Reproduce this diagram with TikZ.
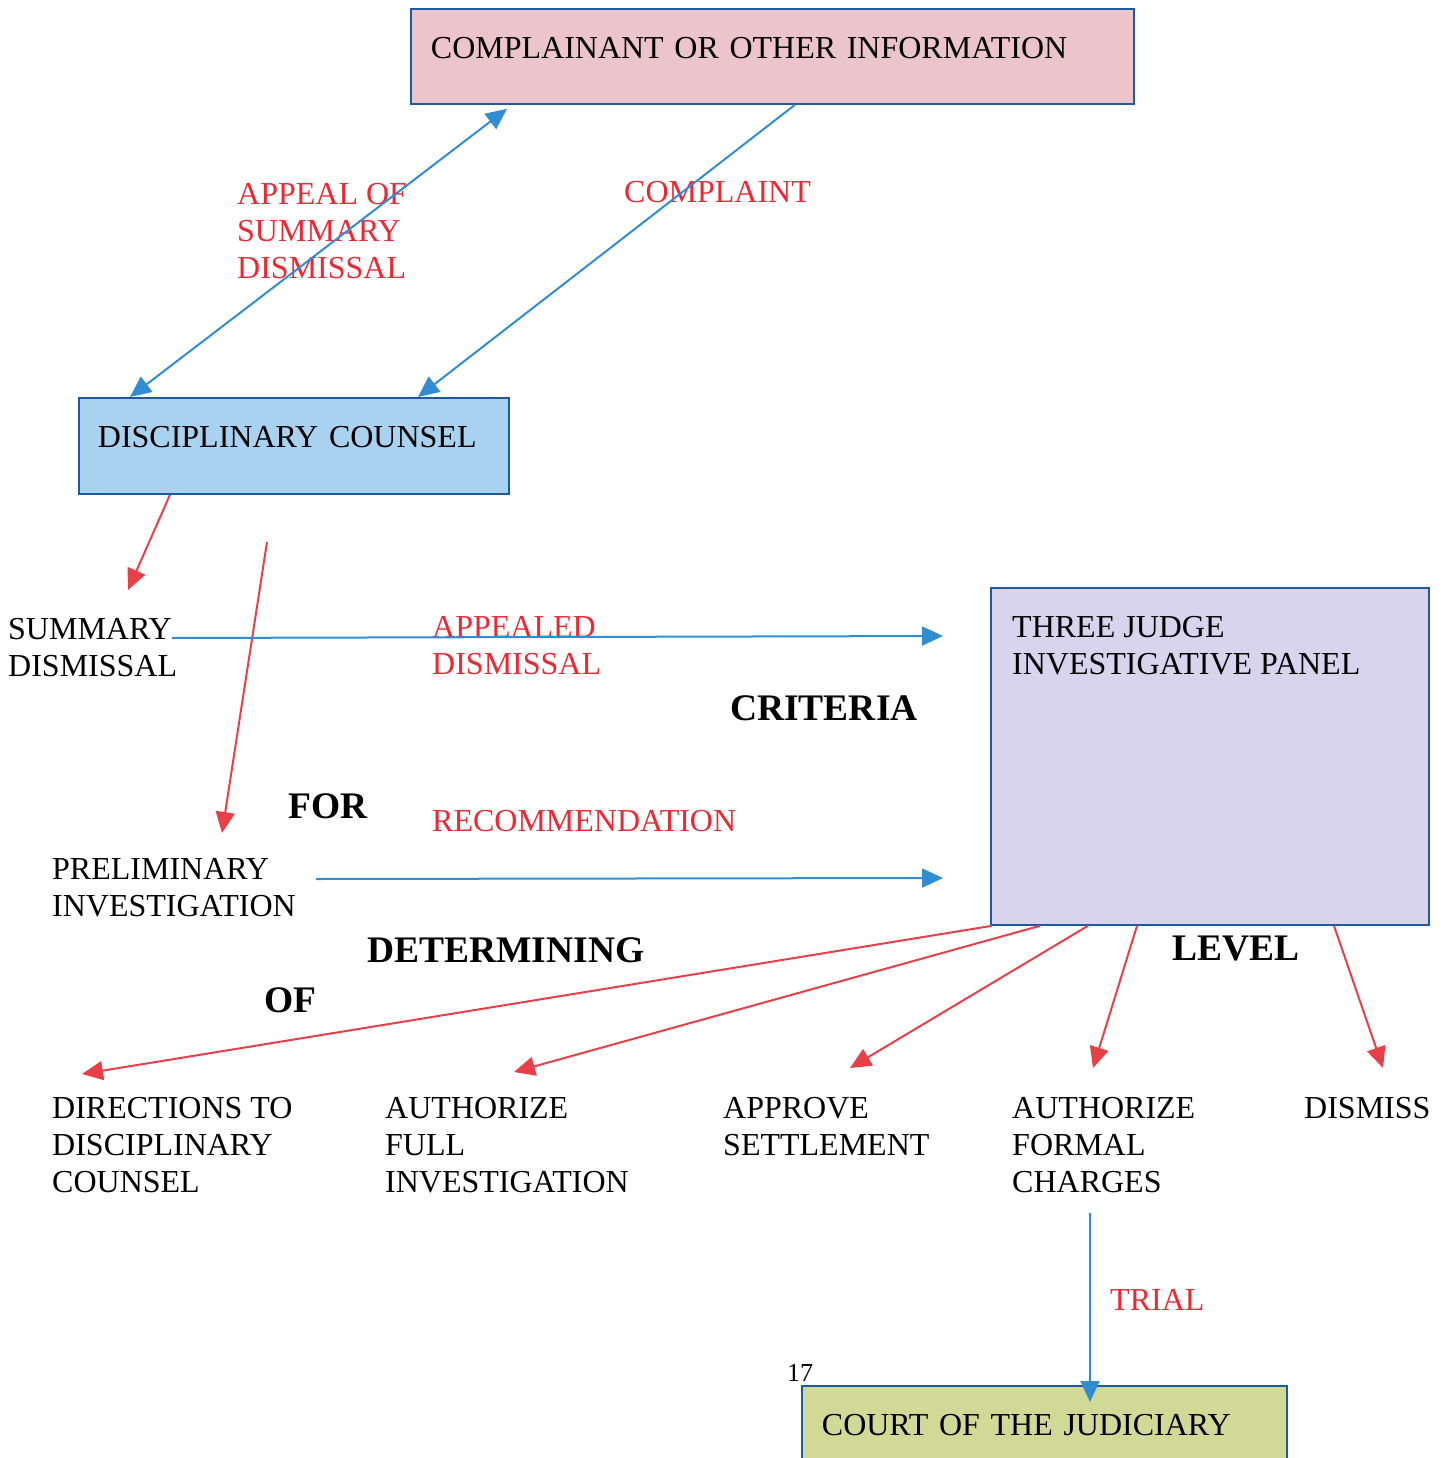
\documentclass[tikz,border=0pt]{standalone}
\usepackage{fontspec}
\setmainfont{Liberation Serif}
\usetikzlibrary{arrows.meta,positioning}
\definecolor{boxline}{HTML}{1E5AA0}
\definecolor{srcfill}{HTML}{EBC4CC}
\definecolor{dcfill}{HTML}{A8D2F0}
\definecolor{panelfill}{HTML}{D8D4EE}
\definecolor{courtfill}{HTML}{D0DA96}
\definecolor{arrblue}{HTML}{328CD2}
\definecolor{arrred}{HTML}{E84048}
\definecolor{txtred}{HTML}{EE2832}

\begin{document}
\begin{tikzpicture}[x=1pt,y=-1pt,>={Triangle[length=21pt,width=19pt]},
   every node/.style={inner sep=0pt,font=\fontsize{32}{37}\selectfont},
   box/.style={draw=boxline,line width=1.8pt,anchor=north west,align=left,
     inner xsep=20pt,text height=22pt,text depth=18pt},
   txt/.style={anchor=north west,align=left},
   redtxt/.style={txt,text=txtred},
   big/.style={anchor=north west,font=\fontsize{37.5}{40}\selectfont\bfseries},
   bluearr/.style={draw=arrblue,line width=2pt},
   redarr/.style={draw=arrred,line width=2pt}]
   \useasboundingbox (0,0) rectangle (1440,1458);

   % boxes
   \node[box,fill=srcfill,text width=683pt,minimum height=95pt] (src) at (410,8) {COMPLAINANT OR OTHER INFORMATION};
   \node[box,fill=dcfill,inner xsep=19pt,text width=392pt,minimum height=96pt] (dc) at (78,397) {DISCIPLINARY COUNSEL};
   \node[box,fill=panelfill,minimum width=438pt,minimum height=337pt] (panel) at (990,587) {};
   \node[txt,below right=29pt and 22pt of panel.north west] (paneltxt) {THREE JUDGE\\INVESTIGATIVE PANEL};
   \node[box,fill=courtfill,text width=445pt,minimum height=110pt,text depth=33pt] (court) at (801,1385) {COURT OF THE JUDICIARY};
   \node[anchor=north west,font=\fontsize{26}{30}\selectfont] (page) at (787,1364) {17};

   % plain and coloured texts
   \node[redtxt] (appeal) at (237,183) {APPEAL OF\\SUMMARY\\DISMISSAL};
   \node[redtxt] (complaint) at (624,181) {COMPLAINT};
   \node[txt] (sd) at (8,618) {SUMMARY\\DISMISSAL};
   \node[redtxt] (appealed) at (432,616) {APPEALED\\DISMISSAL};
   \node[big] (criteria) at (730,695) {CRITERIA};
   \node[big] (for) at (288,793) {FOR};
   \node[redtxt] (recom) at (432,810) {RECOMMENDATION};
   \node[txt] (pi) at (52,858) {PRELIMINARY\\INVESTIGATION};
   \node[big] (determining) at (367,937) {DETERMINING};
   \node[big] (of) at (264,987) {OF};
   \node[big] (level) at (1172,936) {LEVEL};
   \node[txt] (directions) at (52,1097) {DIRECTIONS TO\\DISCIPLINARY\\COUNSEL};
   \node[txt] (fullinv) at (385,1097) {AUTHORIZE\\FULL\\INVESTIGATION};
   \node[txt] (settle) at (723,1097) {APPROVE\\SETTLEMENT};
   \node[txt] (formal) at (1012,1097) {AUTHORIZE\\FORMAL\\CHARGES};
   \node[txt] (dismiss) at (1304,1097) {DISMISS};
   \node[redtxt] (trial) at (1110,1289) {TRIAL};

   % free ends
   \coordinate (sdtip) at (128,590);
   \coordinate (pistart) at (267,542);
   \coordinate (pitip) at (222,833);
   \coordinate (sdout) at (172,638);
   \coordinate (sdin) at (943,636);
   \coordinate (piout) at (316,879);
   \coordinate (piin) at (943,878);
   \coordinate (o1) at (82,1074);
   \coordinate (o2) at (514,1072);
   \coordinate (o3) at (850,1068);
   \coordinate (o4) at (1093,1068);
   \coordinate (o5) at (1383,1068);
   \coordinate (trialstart) at (1090,1213);

   \draw[bluearr,<->] ([xshift=52]dc.north west) -- ([xshift=97,yshift=-4]src.south west);
   \draw[bluearr,->] ([xshift=385]src.south west) -- ([xshift=340]dc.north west);
   \draw[redarr,->] ([xshift=92]dc.south west) -- (sdtip);
   \draw[redarr,->] (pistart) -- (pitip);
   \draw[bluearr,->] (sdout) -- (sdin);
   \draw[bluearr,->] (piout) -- (piin);
   \draw[redarr,->] ([xshift=2]panel.south west) -- (o1);
   \draw[redarr,->] ([xshift=50]panel.south west) -- (o2);
   \draw[redarr,->] ([xshift=98]panel.south west) -- (o3);
   \draw[redarr,->] ([xshift=147]panel.south west) -- (o4);
   \draw[redarr,->] ([xshift=344]panel.south west) -- (o5);
   \draw[bluearr,->] (trialstart) -- ([xshift=289,yshift=-17]court.north west);
\end{tikzpicture}
\end{document}
